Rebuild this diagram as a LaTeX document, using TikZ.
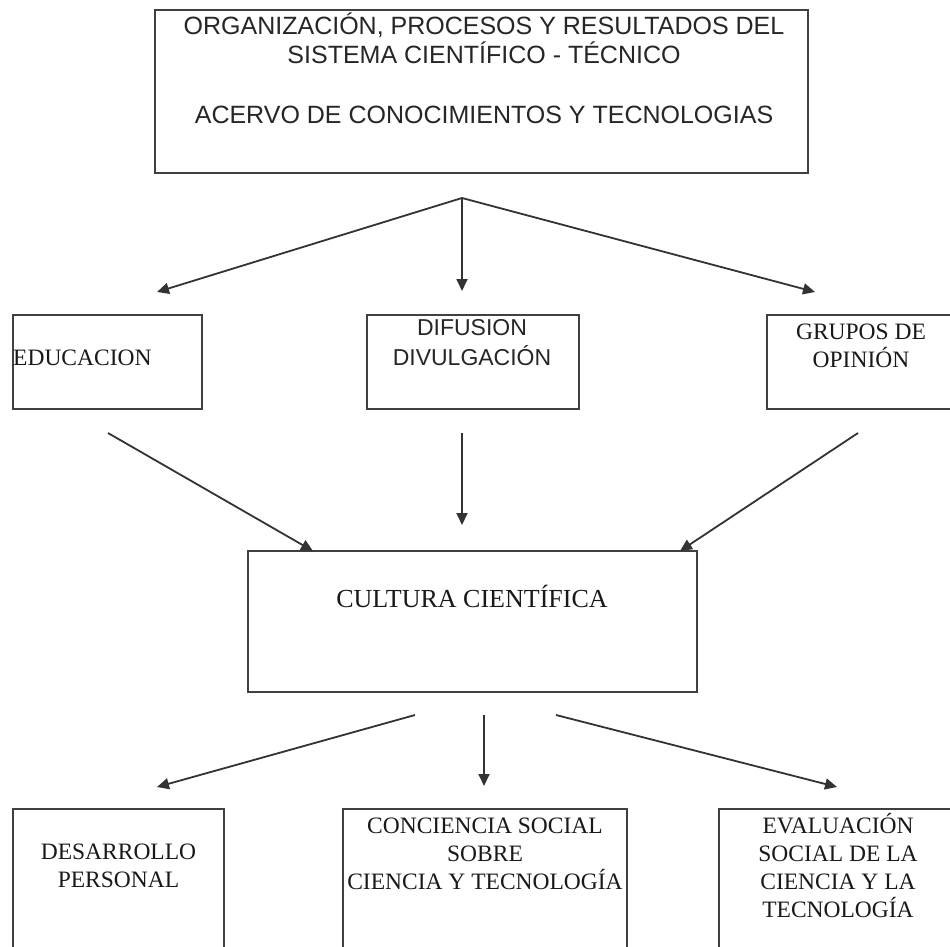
\documentclass[tikz,border=0pt]{standalone}
\usepackage{fontspec}
\setmainfont{Liberation Serif}
\newfontfamily\sansf{Liberation Sans}
\newfontfamily\seriff{Liberation Serif}
\usetikzlibrary{arrows.meta}
\begin{document}
\begin{tikzpicture}[x=1pt,y=-1pt,
  box/.style={draw=black!75,line width=1.9pt,rectangle,inner sep=0pt,fill=none},
  conn/.style={draw=black!80,line width=1.8pt,-{Triangle[length=12pt,width=11pt]}},
  sanstxt/.style={font=\sansf\fontsize{25}{29}\selectfont,text=black!85,align=center,anchor=base,inner sep=0pt},
  sanssm/.style={font=\sansf\fontsize{23}{30}\selectfont,text=black!85,align=center,anchor=base,inner sep=0pt},
  seriftxt/.style={font=\seriff\fontsize{23.5}{28}\selectfont,text=black!90,align=center,anchor=base,inner sep=0pt},
  bigserif/.style={font=\seriff\fontsize{26}{30}\selectfont,text=black!90,anchor=base,inner sep=0pt}
]
\useasboundingbox (0,0) rectangle (950,947);
\clip (0,0) rectangle (950,947);
\fill[white] (0,0) rectangle (950,947);

% boxes
\node[box,minimum width=653pt,minimum height=163pt] (top) at (481.5,91.5) {};
\node[box,minimum width=189pt,minimum height=94pt] (edu) at (107.5,362) {};
\node[box,minimum width=212pt,minimum height=94pt] (dif) at (473,362) {};
\node[box,minimum width=188pt,minimum height=94pt] (gru) at (861,362) {};
\node[box,minimum width=449pt,minimum height=141pt] (cul) at (472.5,621.5) {};
\node[box,minimum width=211pt,minimum height=191pt] (des) at (118.5,904.5) {};
\node[box,minimum width=284pt,minimum height=191pt] (con) at (485,904.5) {};
\node[box,minimum width=238pt,minimum height=191pt] (eva) at (838,904.5) {};

% texts (base anchor = baseline of last line)
\node[sanstxt] (toptxt) at (484,64) {ORGANIZACIÓN, PROCESOS Y RESULTADOS DEL\\SISTEMA CIENTÍFICO - TÉCNICO};
\node[sanstxt] (toptxtb) at (484,124) {ACERVO DE CONOCIMIENTOS Y TECNOLOGIAS};
\node[seriftxt,anchor=base west] (edutxt) at (13,365) {EDUCACION};
\node[sanssm] (diftxt) at (472,365) {DIFUSION\\DIVULGACIÓN};
\node[seriftxt] (grutxt) at (861,367) {GRUPOS DE\\OPINIÓN};
\node[bigserif] (cultxt) at (472,607) {CULTURA CIENTÍFICA};
\node[seriftxt] (destxt) at (118.5,887) {DESARROLLO\\PERSONAL};
\node[seriftxt] (contxt) at (485,889) {CONCIENCIA SOCIAL\\SOBRE\\CIENCIA Y TECNOLOGÍA};
\node[seriftxt] (evatxt) at (838,917) {EVALUACIÓN\\SOCIAL DE LA\\CIENCIA Y LA\\TECNOLOGÍA};

% connector points
\coordinate (fork) at (462,198);
\coordinate (e1) at (157,292);
\coordinate (e2) at (462,291);
\coordinate (e3) at (815,292);
\coordinate (s4) at (108,433);
\coordinate (e4) at (313,551);
\coordinate (s5) at (462,433);
\coordinate (e5) at (462,525);
\coordinate (s6) at (858,433);
\coordinate (e6) at (680,551);
\coordinate (s7) at (415,715);
\coordinate (e7) at (157,787);
\coordinate (s8) at (484,715);
\coordinate (e8) at (484,786);
\coordinate (s9) at (556,715);
\coordinate (e9) at (837,787);

\draw[conn] (fork) -- (e1);
\draw[conn] (fork) -- (e2);
\draw[conn] (fork) -- (e3);
\draw[conn] (s4) -- (e4);
\draw[conn] (s5) -- (e5);
\draw[conn] (s6) -- (e6);
\draw[conn] (s7) -- (e7);
\draw[conn] (s8) -- (e8);
\draw[conn] (s9) -- (e9);
\end{tikzpicture}
\end{document}
